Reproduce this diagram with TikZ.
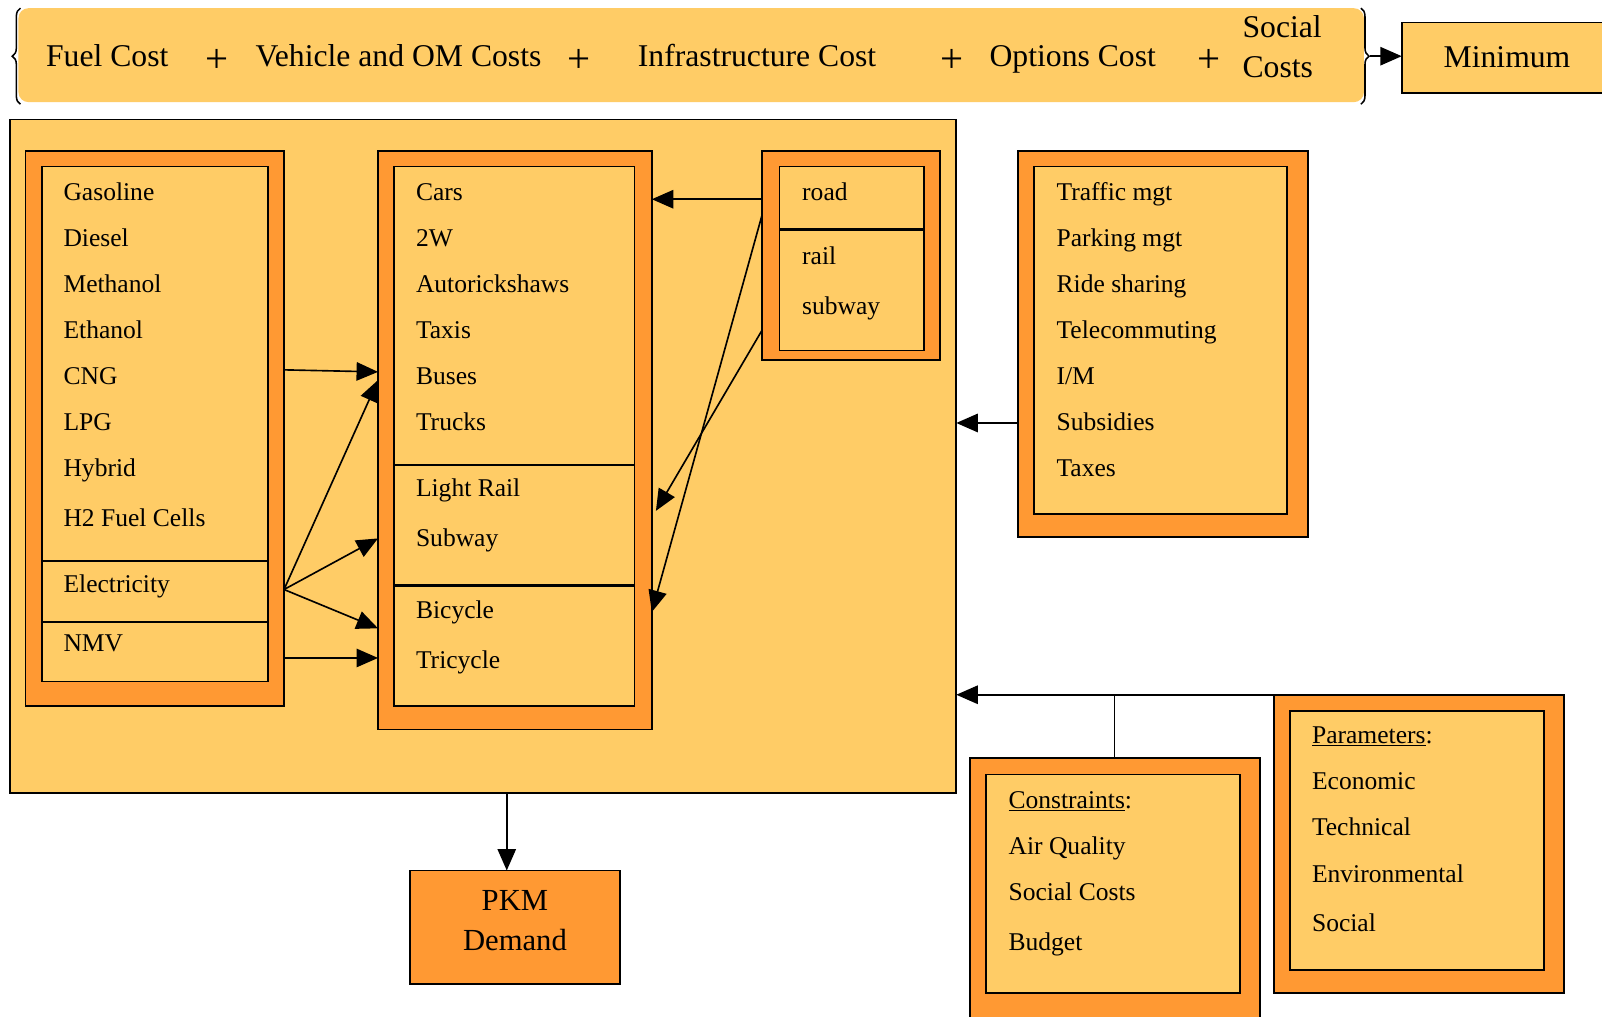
\documentclass[tikz,border=0pt]{standalone}
\usepackage{fontspec}
\setmainfont{Liberation Serif}
\usetikzlibrary{arrows.meta,decorations.pathreplacing}
\definecolor{lorange}{RGB}{255,204,102}
\definecolor{dorange}{RGB}{255,153,51}
\tikzset{
  boxo/.style={draw=black, line width=1.8pt, fill=dorange, anchor=north west, inner sep=0pt, outer sep=0pt},
  boxi/.style={draw=black, line width=1.8pt, fill=lorange, anchor=north west, inner sep=0pt, outer sep=0pt},
  item/.style={anchor=base west, inner sep=0pt, font=\fontsize{25}{30}\selectfont},
  bigtext/.style={anchor=base, inner sep=0pt, font=\fontsize{31}{36}\selectfont},
  plustext/.style={anchor=center, inner sep=0pt, font=\fontsize{40}{44}\selectfont},
  arr/.style={line width=1.6pt, -{Triangle[length=21pt,width=18pt]}},
  conn/.style={line width=1.6pt},
  divthin/.style={line width=1.6pt},
  divthick/.style={line width=3pt},
}
\begin{document}
\begin{tikzpicture}[x=1pt,y=-1pt]
\useasboundingbox (0,0) rectangle (1568,995);
\fill[white] (0,0) rectangle (1568,995);

% top cost bar
\fill[lorange, rounded corners=10pt] (18,8) rectangle (1335,100);
\draw[line width=1.5pt, decorate, decoration={brace, amplitude=8pt}] (20,102) -- (20,8);
\draw[line width=1.5pt, decorate, decoration={brace, amplitude=8pt}] (1332,8) -- (1332,102);
\coordinate (bracetip) at (1341,55);
\node[bigtext] (fuelcost) at (105,65) {Fuel Cost};
\node[plustext] (p1) at (212,60) {+};
\node[bigtext] (vehcost) at (390,65) {Vehicle and OM Costs};
\node[plustext] (p2) at (567,60) {+};
\node[bigtext] (infcost) at (741,65) {Infrastructure Cost};
\node[plustext] (p3) at (932,60) {+};
\node[bigtext] (optcost) at (1050,65) {Options Cost};
\node[plustext] (p4) at (1183,60) {+};
\node[bigtext, anchor=base west] (social1) at (1216,37) {Social};
\node[bigtext, anchor=base west] (social2) at (1216,76) {Costs};

\node[boxi, minimum width=202pt, minimum height=69pt] (minimum) at (1372,22) {};
\node[bigtext] (mintext) at (1475,66) {Minimum};
\draw[arr] (bracetip) -- (minimum.west |- bracetip);

% big model box
\node[boxi, minimum width=926pt, minimum height=659pt] (big) at (10,117) {};

% fuels
\node[boxo, minimum width=253pt, minimum height=543pt] (fuelO) at (25,148) {};
\node[boxi, minimum width=221pt, minimum height=504pt] (fuelI) at (41,163) {};
\draw[divthin] (fuelI.west |- 0,549) -- (fuelI.east |- 0,549);
\draw[divthin] (fuelI.west |- 0,609) -- (fuelI.east |- 0,609);
\foreach \t/\y/\n in {Gasoline/188/f1, Diesel/233/f2, Methanol/278/f3, Ethanol/323/f4, CNG/368/f5, LPG/413/f6, Hybrid/458/f7, H2 Fuel Cells/507/f8, Electricity/572/f9, NMV/630/f10}
  \node[item] (\n) at (62,\y+8) {\t};

% vehicles
\node[boxo, minimum width=268pt, minimum height=566pt] (vehO) at (370,148) {};
\node[boxi, minimum width=235pt, minimum height=528pt] (vehI) at (386,163) {};
\draw[divthin] (vehI.west |- 0,455) -- (vehI.east |- 0,455);
\draw[divthick] (vehI.west |- 0,573) -- (vehI.east |- 0,573);
\foreach \t/\y/\n in {Cars/188/v1, 2W/233/v2, Autorickshaws/278/v3, Taxis/323/v4, Buses/368/v5, Trucks/413/v6, Light Rail/478/v7, Subway/527/v8, Bicycle/597/v9, Tricycle/646/v10}
  \node[item] (\n) at (407,\y+8) {\t};

% infrastructure
\node[boxo, minimum width=174pt, minimum height=204pt] (infO) at (746,148) {};
\node[boxi, minimum width=141pt, minimum height=180pt] (infI) at (763,163) {};
\draw[divthick] (infI.west |- 0,225) -- (infI.east |- 0,225);
\foreach \t/\y/\n in {road/188/i1, rail/251/i2, subway/300/i3}
  \node[item] (\n) at (785,\y+8) {\t};

% options
\node[boxo, minimum width=284pt, minimum height=378pt] (optO) at (996,148) {};
\node[boxi, minimum width=248pt, minimum height=340pt] (optI) at (1012,163) {};
\foreach \t/\y/\n in {Traffic mgt/188/o1, Parking mgt/233/o2, Ride sharing/278/o3, Telecommuting/323/o4, {I/M}/368/o5, Subsidies/413/o6, Taxes/458/o7}
  \node[item] (\n) at (1034,\y+8) {\t};

% constraints
\node[boxo, minimum width=284pt, minimum height=262pt] (conO) at (949,742) {};
\node[boxi, minimum width=249pt, minimum height=214pt] (conI) at (965,758) {};
\node[item] (c0) at (987,791) {\underline{Constraints}:};
\foreach \t/\y/\n in {Air Quality/828/c1, Social Costs/873/c2, Budget/922/c3}
  \node[item] (\n) at (987,\y+8) {\t};

% parameters
\node[boxo, minimum width=284pt, minimum height=292pt] (parO) at (1247,680) {};
\node[boxi, minimum width=248pt, minimum height=253pt] (parI) at (1263,696) {};
\node[item] (q0) at (1284,728) {\underline{Parameters}:};
\foreach \t/\y/\n in {Economic/765/q1, Technical/810/q2, Environmental/856/q3, Social/904/q4}
  \node[item] (\n) at (1284,\y+8) {\t};

% PKM demand
\node[boxo, minimum width=206pt, minimum height=111pt] (pkm) at (401,852) {};
\node[bigtext, font=\fontsize{30}{36}\selectfont] (pkm1) at (504,891) {PKM};
\node[bigtext, font=\fontsize{30}{36}\selectfont] (pkm2) at (504,930) {Demand};

% connectors: fuels -> vehicles
\coordinate (elec) at (fuelO.east |- 0,577);
\draw[arr] (fuelO.east |- 0,362) -- (vehO.west |- 0,364);
\draw[arr] (elec) -- (vehO.west |- 0,372);
\draw[arr] (elec) -- (vehO.west |- 0,527);
\draw[arr] (elec) -- (vehO.west |- 0,615);
\draw[arr] (fuelO.east |- 0,644) -- (vehO.west |- 0,644);

% infrastructure -> vehicles
\draw[arr] (infO.west |- 0,195) -- (vehO.east |- 0,195);
\draw[arr] (infO.west |- 0,210) -- (vehO.east |- 0,599);
\coordinate (railtip) at (642,500);
\draw[arr] (infO.west |- 0,323) -- (railtip);

% options -> model
\draw[arr] (optO.west |- 0,414) -- (big.east |- 0,414);

% parameters / constraints -> model
\draw[arr] (parO.north west) -- (big.east |- parO.north west);
\draw[conn] (conO.north) -- (conO.north |- parO.north west);

% model -> PKM
\coordinate (bigout) at (big.south -| 496,0);
\draw[arr] (bigout) -- (pkm.north -| bigout);
\end{tikzpicture}
\end{document}
